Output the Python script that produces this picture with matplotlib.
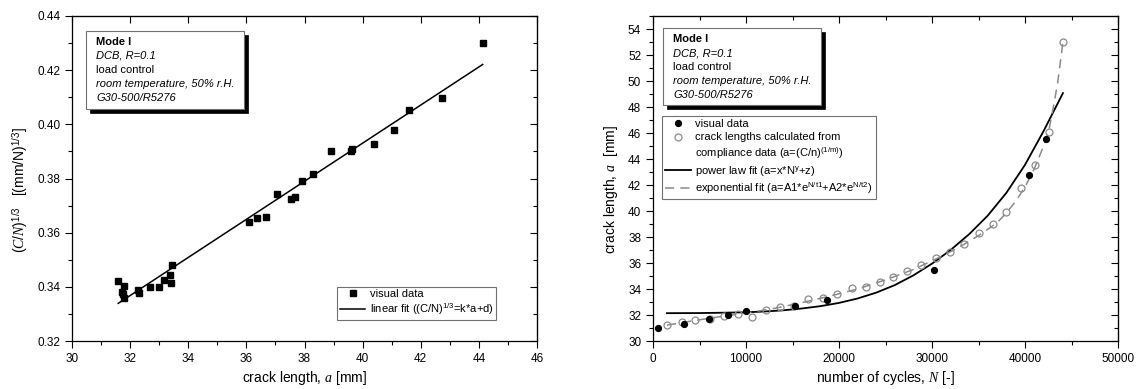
import matplotlib
matplotlib.use("Agg")
import matplotlib.pyplot as plt
from matplotlib.patches import Rectangle
from matplotlib.lines import Line2D
from matplotlib.ticker import MultipleLocator

plt.rcParams['font.family'] = ['Liberation Sans', 'DejaVu Sans']
plt.rcParams['mathtext.fontset'] = 'custom'
plt.rcParams['mathtext.rm'] = 'Liberation Sans'
plt.rcParams['mathtext.sf'] = 'Liberation Sans'
plt.rcParams['mathtext.it'] = 'Liberation Serif:italic'
plt.rcParams['mathtext.bf'] = 'Liberation Sans:bold'

# --- left plot: (C/N)^1/3 vs crack length ---
crack_a = [31.59, 31.78, 31.71, 31.74, 31.78, 32.28, 32.31, 32.67, 32.99, 33.16,
           33.38, 33.40, 33.43, 36.08, 36.35, 36.66, 37.07, 37.55, 37.67, 37.91,
           38.30, 38.91, 39.60, 39.63, 40.38, 41.07, 41.61, 42.73, 44.13]
cn_third = [0.3422, 0.3404, 0.3381, 0.3372, 0.3360, 0.3387, 0.3378, 0.3400, 0.3400, 0.3424,
            0.3444, 0.3414, 0.3479, 0.3638, 0.3656, 0.3659, 0.3742, 0.3725, 0.3730, 0.3791,
            0.3818, 0.3903, 0.3903, 0.3909, 0.3928, 0.3978, 0.4052, 0.4098, 0.4302]
lin_fit_a = [31.59, 44.13]
lin_fit_y = [0.3339, 0.4221]

# --- right plot: crack length vs cycles ---
vis_N = [540, 3300, 5990, 8070, 10040, 15310, 18710, 30180, 40400, 42300]
vis_a = [31.00, 31.34, 31.70, 32.01, 32.27, 32.68, 33.17, 35.44, 42.75, 45.53]
comp_N = [1470, 3100, 4530, 6100, 7660, 9100, 10650, 12150, 13700, 15200,
          16720, 18270, 19810, 21360, 22900, 24380, 25850, 27350, 28870, 30400,
          31900, 33450, 35000, 36520, 37980, 39600, 41110, 42540, 44080]
comp_a = [31.25, 31.43, 31.63, 31.66, 31.96, 32.09, 31.84, 32.35, 32.60, 32.70,
          33.24, 33.27, 33.62, 34.06, 34.14, 34.52, 34.94, 35.42, 35.88, 36.37,
          36.85, 37.50, 38.27, 39.03, 39.90, 41.78, 43.53, 46.10, 53.00]
pow_N = [1500, 5000, 8000, 10000, 12000, 14000, 16000, 18000, 20000, 22000, 24000,
         26000, 28000, 30000, 32000, 34000, 36000, 38000, 40000, 42000, 44080]
pow_a = [32.14, 32.15, 32.18, 32.21, 32.27, 32.36, 32.50, 32.68, 32.93, 33.27, 33.72,
         34.30, 35.05, 35.95, 37.00, 38.22, 39.65, 41.40, 43.55, 46.15, 49.07]
exp_N = [1500, 4000, 7000, 10000, 13000, 16000, 19000, 22000, 25000, 28000,
         31000, 33000, 35000, 37000, 38000, 39000, 40000, 41000, 42000, 42540,
         43000, 43500, 43900, 44080]
exp_a = [31.22, 31.52, 31.85, 32.15, 32.50, 32.95, 33.45, 34.00, 34.70, 35.50,
         36.50, 37.25, 38.10, 39.10, 39.85, 40.75, 41.85, 43.25, 45.00, 46.10,
         47.80, 49.80, 52.00, 53.00]

note_lines = ["Mode I", "DCB, R=0.1", "load control",
              "room temperature, 50% r.H.", "G30-500/R5276"]
note_styles = [("normal", "bold"), ("italic", "normal"), ("normal", "normal"),
               ("italic", "normal"), ("italic", "normal")]

W, H = 1144, 389
fig = plt.figure(figsize=(W / 100, H / 100), dpi=100)
ax1 = fig.add_axes([72 / W, 1 - 341 / H, 465 / W, 325 / H])
ax2 = fig.add_axes([653 / W, 1 - 341 / H, 465 / W, 325 / H])


def fx(x):
    return x / W


def fy(y):
    return 1 - y / H


def draw_note(ax, x0, y0, x1, y1, tx, ty0, dy):
    shadow = Rectangle((fx(x0 + 4), fy(y1 + 4)), fx(x1 - x0), (y1 - y0) / H,
                       transform=fig.transFigure, fc='black', ec='black', lw=0.5, zorder=5)
    box = Rectangle((fx(x0), fy(y1)), fx(x1 - x0), (y1 - y0) / H,
                    transform=fig.transFigure, fc='white', ec='#707070', lw=0.8, zorder=6)
    ax.add_patch(shadow)
    ax.add_patch(box)
    for i, (line, (st, wt)) in enumerate(zip(note_lines, note_styles)):
        ax.text(fx(tx), fy(ty0 + i * dy), line, transform=fig.transFigure,
                fontsize=8, style=st, weight=wt, va='center', ha='left', zorder=7)


def style_axes(ax, xmaj, xmin, ymaj, ymin, top_minor):
    ax.xaxis.set_major_locator(MultipleLocator(xmaj))
    ax.xaxis.set_minor_locator(MultipleLocator(xmin))
    ax.yaxis.set_major_locator(MultipleLocator(ymaj))
    ax.yaxis.set_minor_locator(MultipleLocator(ymin))
    ax.tick_params(which='both', direction='out', labelsize=8.5, width=0.8)
    ax.tick_params(which='major', length=5)
    ax.tick_params(which='minor', length=3)
    for s in ax.spines.values():
        s.set_linewidth(0.9)
    top = ax.secondary_xaxis('top')
    top.xaxis.set_major_locator(MultipleLocator(xmaj))
    if top_minor:
        top.xaxis.set_minor_locator(MultipleLocator(xmin))
    top.tick_params(which='both', direction='in', labeltop=False, width=0.8)
    top.tick_params(which='major', length=5)
    top.tick_params(which='minor', length=3)
    right = ax.secondary_yaxis('right')
    right.yaxis.set_major_locator(MultipleLocator(ymaj))
    right.yaxis.set_minor_locator(MultipleLocator(ymin))
    right.tick_params(which='both', direction='in', labelright=False, width=0.8)
    right.tick_params(which='major', length=5)
    right.tick_params(which='minor', length=3)


# left panel
ax1.plot(crack_a, cn_third, 's', color='black', ms=4.2, label='visual data', zorder=3)
ax1.plot(lin_fit_a, lin_fit_y, '-', color='black', lw=1.1,
         label='linear fit ((C/N)$^{1/3}$=k*a+d)', zorder=2)
ax1.set_xlim(30, 46)
ax1.set_ylim(0.32, 0.44)
style_axes(ax1, 2, 1, 0.02, 0.01, False)
ax1.set_xlabel('crack length, $a$ [mm]', fontsize=10)
ax1.set_ylabel(r'$\mathit{(C/N)}^{\mathit{1/3}}$   [(mm/N)$^{\mathrm{1/3}}$]', fontsize=10)
ax1.xaxis.set_label_coords(0.5, -0.085)
ax1.yaxis.set_label_coords(-0.088, 0.465)
ax1.legend(loc='upper left', bbox_to_anchor=(fx(337), fy(286.5)), bbox_transform=fig.transFigure,
           fontsize=8, frameon=True, fancybox=False, edgecolor='#707070', framealpha=1,
           borderpad=0.25, handlelength=2.3, handletextpad=0.4, labelspacing=0.25,
           borderaxespad=0)
ax1.get_legend().get_frame().set_linewidth(0.8)
draw_note(ax1, 86, 31, 244, 109, 96, 42, 14)

# right panel
ax2.plot(comp_N, comp_a, 'o', mfc='none', mec='#8a8a8a', mew=0.9, ms=5, zorder=3)
ax2.plot(vis_N, vis_a, 'o', color='black', ms=4.2, zorder=4)
ax2.plot(pow_N, pow_a, '-', color='black', lw=1.3, zorder=2)
ax2.plot(exp_N, exp_a, '--', color='#8a8a8a', lw=1.1, dashes=(6, 4), zorder=2)
ax2.set_xlim(0, 50000)
ax2.set_ylim(30, 55)
style_axes(ax2, 10000, 5000, 2, 1, True)
ax2.set_yticks(range(30, 55, 2))
ax2.set_xlabel('number of cycles, $N$ [-]', fontsize=10)
ax2.set_ylabel('crack length, $a$  [mm]', fontsize=10)
ax2.xaxis.set_label_coords(0.5, -0.085)
ax2.yaxis.set_label_coords(-0.07, 0.465)

blank = Line2D([], [], ls='none', marker=None)
handles = [
    Line2D([], [], ls='none', marker='o', color='black', ms=4.2),
    Line2D([], [], ls='none', marker='o', mfc='none', mec='#8a8a8a', mew=0.9, ms=5),
    blank,
    Line2D([], [], color='black', lw=1.3),
    Line2D([], [], color='#8a8a8a', lw=1.1, ls='--', dashes=(6, 4)),
]
labels = [
    'visual data',
    'crack lengths calculated from',
    'compliance data (a=(C/n)$^{\\mathrm{(1/m)}}$)',
    'power law fit (a=x*N$^{\\mathrm{y}}$+z)',
    'exponential fit (a=A1*e$^{\\mathrm{N/t1}}$+A2*e$^{\\mathrm{N/t2}}$)',
]
leg = ax2.legend(handles, labels, loc='upper left', bbox_to_anchor=(fx(662), fy(116)),
                 bbox_transform=fig.transFigure, fontsize=8, frameon=True, fancybox=False,
                 edgecolor='#707070', framealpha=1, borderpad=0.3, handlelength=2.3,
                 handletextpad=0.4, labelspacing=0.28, borderaxespad=0)
leg.get_frame().set_linewidth(0.8)
draw_note(ax2, 663, 28, 821, 105, 673, 39.5, 13.8)

fig.savefig('out.png', dpi=100, facecolor='white')
